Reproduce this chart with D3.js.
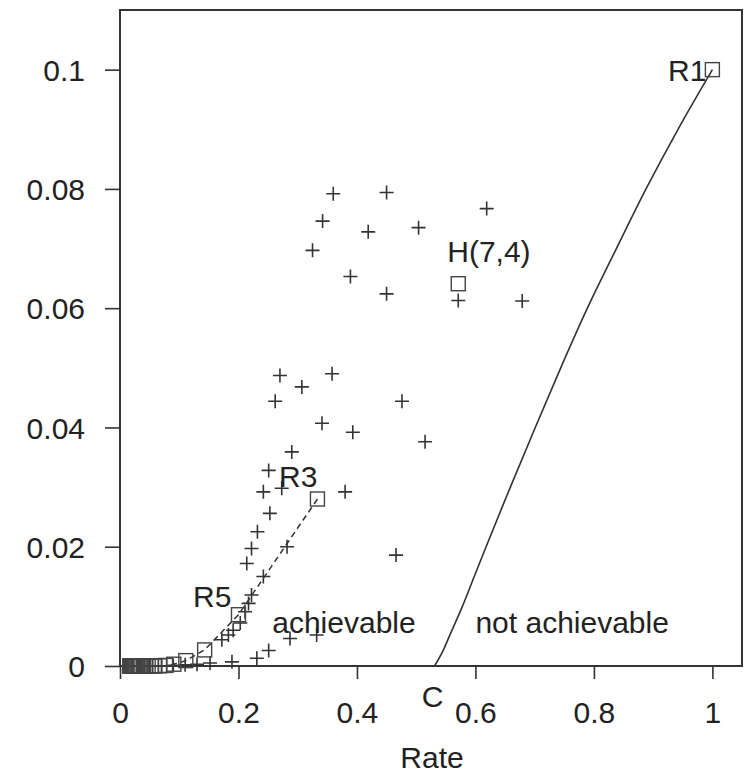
<!DOCTYPE html>
<html>
  <head>
    <title>Rate vs error</title>
    <script type="text/javascript" src="https://cdnjs.cloudflare.com/ajax/libs/d3/7.8.5/d3.min.js"></script>
    <style type="text/css">
      body {
        margin: 0;
        background: #fff;
      }
      text {
        font-family: "Liberation Sans", Arial, sans-serif;
        fill: #222;
      }
    </style>
  </head>
  <body>
  </body>
  <script type="text/javascript">

  // repetition codes R1, R3, R5, ... (rate, bit error)
  var repNames = ['R1', 'R3', 'R5']
  var repRate = [1, 0.3333, 0.2, 0.1429, 0.1111, 0.0909, 0.0769, 0.0667, 0.0588, 0.0526,
    0.0476, 0.0435, 0.04, 0.037, 0.0345, 0.0323, 0.0303, 0.0286, 0.027, 0.0256,
    0.0244, 0.0233, 0.0222, 0.0213, 0.0204, 0.0196, 0.0189, 0.0182, 0.0175, 0.0169, 0.0164]
  var repErr = [0.1, 0.028, 0.0086, 0.0027, 0.0009, 0.0003, 0.0001, 0.00003, 0.00001, 0,
    0, 0, 0, 0, 0, 0, 0, 0, 0, 0,
    0, 0, 0, 0, 0, 0, 0, 0, 0, 0, 0]

  // Hamming (7,4)
  var hamRate = [0.571]
  var hamErr = [0.0641]

  // BCH codes (crosses)
  var bchRate = [0.360, 0.450, 0.619, 0.342, 0.419, 0.504, 0.325, 0.389, 0.450, 0.571, 0.679,
    0.270, 0.358, 0.307, 0.262, 0.341, 0.393, 0.290, 0.251, 0.242, 0.273, 0.380,
    0.253, 0.232, 0.222, 0.282, 0.214, 0.242, 0.476, 0.515, 0.466,
    0.222, 0.217, 0.211, 0.203, 0.191, 0.183, 0.172, 0.287, 0.332, 0.251, 0.231,
    0.189, 0.152, 0.13, 0.11, 0.09, 0.07, 0.05, 0.035, 0.02, 0.01]
  var bchErr = [0.0792, 0.0794, 0.0767, 0.0746, 0.0728, 0.0735, 0.0697, 0.0653, 0.0624, 0.0613, 0.0612,
    0.0487, 0.0490, 0.0468, 0.0444, 0.0407, 0.0392, 0.0359, 0.0328, 0.0292, 0.0298, 0.0292,
    0.0256, 0.0225, 0.0197, 0.0200, 0.0172, 0.0150, 0.0444, 0.0376, 0.0186,
    0.0119, 0.0105, 0.0091, 0.0072, 0.0060, 0.0052, 0.0044, 0.0046, 0.0052, 0.0026, 0.0013,
    0.0007, 0.0005, 0.0003, 0.0002, 0.0001, 0.00005, 0, 0, 0, 0]

  // Shannon limit curve
  var limitRate = [0.531, 0.545, 0.556, 0.578, 0.598, 0.618, 0.659, 0.701, 0.744, 0.789, 0.838, 0.888, 0.942, 1.0]
  var limitErr = [0, 0.0025, 0.005, 0.01, 0.015, 0.02, 0.03, 0.04, 0.05, 0.06, 0.07, 0.08, 0.09, 0.1]

  var xTicks = [0, 0.2, 0.4, 0.6, 0.8, 1]
  var yTicks = [0, 0.02, 0.04, 0.06, 0.08, 0.1]

  var W = 748, H = 776
  var mLeft = 120, mRight = 742, mTop = 10, mBottom = 666

  var svg = d3.select('body')
    .append('svg')
      .attr('width', W)
      .attr('height', H)

  var x = d3.scaleLinear().domain([0, 1.05]).range([mLeft, mRight])
  var y = d3.scaleLinear().domain([0, 0.11]).range([mBottom, mTop])

  var fmt = function(d) { return d === 0 ? '0' : String(+d.toFixed(2)) }

  var xAxis = svg.append('g')
    .attr('transform', 'translate(0,' + mBottom + ')')
    .call(d3.axisBottom(x).tickValues(xTicks).tickFormat(fmt).tickSize(13).tickPadding(23))
  var yAxis = svg.append('g')
    .attr('transform', 'translate(' + mLeft + ',0)')
    .call(d3.axisLeft(y).tickValues(yTicks).tickFormat(fmt).tickSize(15).tickPadding(20))

  ;[xAxis, yAxis].forEach(function(a) {
    a.select('.domain').remove()
    a.selectAll('line').attr('stroke', '#333').attr('stroke-width', 1.6)
    a.selectAll('text').style('font-size', '30px').attr('fill', '#222')
  })
  yAxis.selectAll('text').attr('dy', '0.36em')

  // frame
  svg.append('rect')
    .attr('x', mLeft).attr('y', mTop)
    .attr('width', mRight - mLeft).attr('height', mBottom - mTop)
    .attr('fill', 'none').attr('stroke', '#333').attr('stroke-width', 2)

  // Shannon limit
  var limit = limitRate.map(function(r, i) { return [r, limitErr[i]] })
  svg.append('path')
    .datum(limit)
    .attr('fill', 'none')
    .attr('stroke', '#333')
    .attr('stroke-width', 1.6)
    .attr('d', d3.line().curve(d3.curveCatmullRom)
      .x(function(d) { return x(d[0]) }).y(function(d) { return y(d[1]) }))

  // dashed line through repetition codes R3, R5, ...
  var rep = repRate.map(function(r, i) { return [r, repErr[i]] })
  svg.append('path')
    .datum(rep.slice(1))
    .attr('fill', 'none')
    .attr('stroke', '#333')
    .attr('stroke-width', 1.5)
    .attr('stroke-dasharray', '6,4')
    .attr('d', d3.line().x(function(d) { return x(d[0]) }).y(function(d) { return y(d[1]) }))

  // BCH crosses
  var bch = bchRate.map(function(r, i) { return [r, bchErr[i]] })
  svg.selectAll('path.cross').data(bch)
    .enter().append('path')
      .attr('class', 'cross')
      .attr('transform', function(d) { return 'translate(' + x(d[0]) + ',' + y(d[1]) + ')' })
      .attr('d', 'M-7,0H7M0,-7V7')
      .attr('stroke', '#333')
      .attr('stroke-width', 1.6)
      .attr('fill', 'none')

  // boxes: repetition codes and Hamming
  var boxes = rep.concat(hamRate.map(function(r, i) { return [r, hamErr[i]] }))
  svg.selectAll('rect.box').data(boxes)
    .enter().append('rect')
      .attr('class', 'box')
      .attr('x', function(d) { return x(d[0]) - 7 })
      .attr('y', function(d) { return y(d[1]) - 7 })
      .attr('width', 14).attr('height', 14)
      .attr('fill', 'none')
      .attr('stroke', '#444')
      .attr('stroke-width', 1.4)

  // labels
  var label = function(t, px, py, anchor) {
    svg.append('text')
      .attr('x', px).attr('y', py)
      .attr('text-anchor', anchor || 'start')
      .style('font-size', '30px')
      .text(t)
  }
  label(repNames[0], x(repRate[0]) - 6, y(repErr[0]) + 11, 'end')
  label(repNames[1], x(repRate[1]), y(repErr[1]) - 12, 'end')
  label(repNames[2], x(repRate[2]) - 7, y(repErr[2]) - 8, 'end')
  label('H(7,4)', x(hamRate[0]) - 11, y(hamErr[0]) - 22)
  label('achievable', x(0.257), 633)
  label('not achievable', x(0.6), 633)
  label('C', x(limitRate[0]) - 2, 707, 'middle')
  label('Rate', (mLeft + mRight) / 2 + 1, 768, 'middle')

  </script>
</html>
